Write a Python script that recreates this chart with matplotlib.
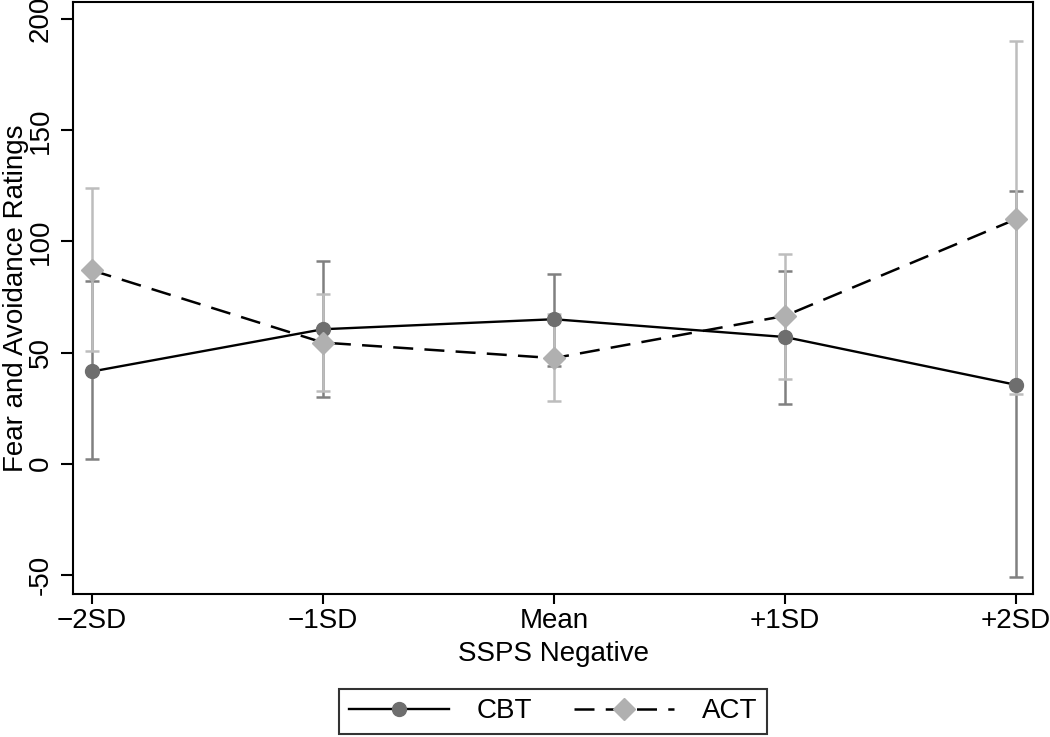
import matplotlib
matplotlib.use("Agg")
import matplotlib.pyplot as plt

plt.rcParams['font.family'] = ['Liberation Sans', 'DejaVu Sans']

# values
cats = ['\u22122SD', '\u22121SD', 'Mean', '+1SD', '+2SD']
cbt_mean = [41.5, 60.5, 65, 57, 35.5]
cbt_lo = [2, 30, 44, 27, -51]
cbt_hi = [82, 91, 85.5, 86.5, 122.5]
act_mean = [87, 54.5, 47.5, 66.5, 110]
act_lo = [50.5, 32.5, 28, 38, 31.5]
act_hi = [124, 76.5, 67.5, 94.5, 190]
yticks = [-50, 0, 50, 100, 150, 200]

x = list(range(len(cats)))

fig = plt.figure(figsize=(10.5, 7.37), dpi=100)
ax = fig.add_axes([73/1050, 1 - 594/737, (1033-73)/1050, (594-2)/737])

dark = '#808080'
light = '#bdbdbd'

ax.errorbar(x, cbt_mean,
            yerr=[[m - l for m, l in zip(cbt_mean, cbt_lo)],
                  [h - m for m, h in zip(cbt_mean, cbt_hi)]],
            fmt='none', ecolor=dark, elinewidth=1.8, capsize=4.8, capthick=1.8, zorder=1)
ax.errorbar(x, act_mean,
            yerr=[[m - l for m, l in zip(act_mean, act_lo)],
                  [h - m for m, h in zip(act_mean, act_hi)]],
            fmt='none', ecolor=light, elinewidth=1.8, capsize=4.8, capthick=1.8, zorder=2)

ax.plot(x, cbt_mean, color='black', lw=1.7, ls='-', marker='o', ms=10,
        mfc='#6e6e6e', mec='#6e6e6e', label='CBT', zorder=3)
ax.plot(x, act_mean, color='black', lw=1.8, ls=(0, (8, 4.5)), marker='D', ms=11.5,
        mfc='#b0b0b0', mec='#b0b0b0', label='ACT', zorder=4)

ax.set_xlim(-0.082, 4.074)
ax.set_ylim(-58.6, 207.7)
ax.set_xticks(x)
ax.set_xticklabels(cats)
ax.set_yticks(yticks)
ax.set_yticklabels([str(v) for v in yticks], rotation=90, va='center')

for s in ax.spines.values():
    s.set_linewidth(1.5)
ax.tick_params(axis='both', labelsize=20, width=1.5, direction='out')
ax.tick_params(axis='y', length=9, pad=5)
ax.tick_params(axis='x', length=7, pad=3)

ax.set_xlabel('SSPS Negative', fontsize=20, labelpad=5)
ax.set_ylabel('Fear and Avoidance Ratings', fontsize=20)
ax.yaxis.set_label_coords(-0.046, 0.5)

leg = fig.legend(loc='lower center', bbox_to_anchor=(553/1050, 0.0), ncol=2,
                 fontsize=20, handlelength=3.6, numpoints=1, frameon=True,
                 fancybox=False, edgecolor='black', columnspacing=1.5,
                 handletextpad=1.0, borderpad=0.35, borderaxespad=0.1)
leg.get_frame().set_linewidth(1.5)

fig.savefig('out.png', dpi=100)
